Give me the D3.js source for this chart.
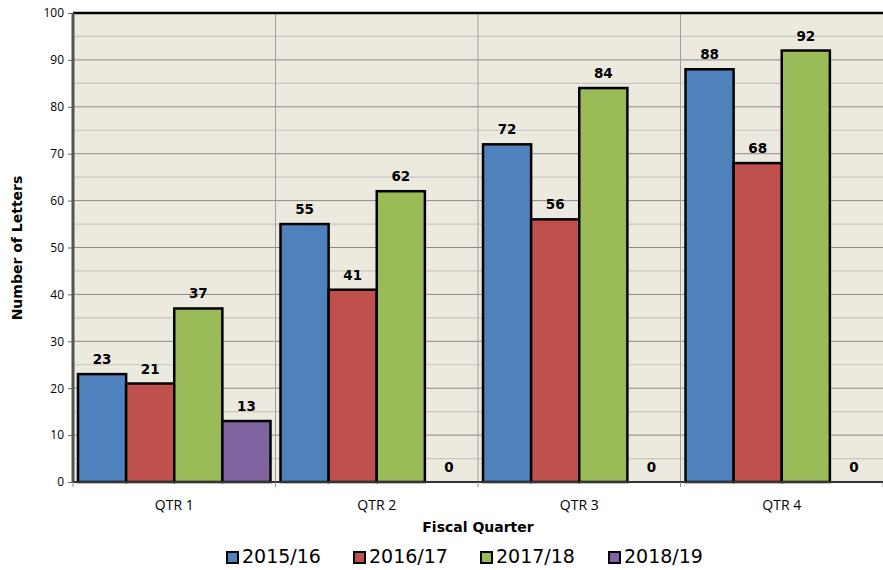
<!DOCTYPE html>
<html>
<head>
<meta charset="utf-8">
<script src="https://cdn.jsdelivr.net/npm/d3@7"></script>
<style>
body { margin: 0; background: #fff; }
</style>
</head>
<body>
<svg id="drawing_region"></svg>
<script>
const quarters = ['QTR 1', 'QTR 2', 'QTR 3', 'QTR 4'];
const seriesNames = ['2015/16', '2016/17', '2017/18', '2018/19'];
const values2015 = [23, 55, 72, 88];
const values2016 = [21, 41, 56, 68];
const values2017 = [37, 62, 84, 92];
const values2018 = [13, 0, 0, 0];
const colors = ['#4F81BD', '#C0504D', '#9BBB59', '#8064A2'];
const yTicks = [0, 10, 20, 30, 40, 50, 60, 70, 80, 90, 100];

const seriesValues = [values2015, values2016, values2017, values2018];

const width = 883, height = 570;
const margin = { top: 13, right: 0, bottom: 88, left: 73 };
const innerW = width - margin.left - margin.right;
const innerH = height - margin.top - margin.bottom;

const svg = d3.select('#drawing_region').attr('width', width).attr('height', height);
const chart = svg.append('g').attr('transform', `translate(${margin.left},${margin.top})`);

const xscale = d3.scaleBand().domain(quarters).range([0, innerW]).padding(0);
const inner = d3.scaleBand().domain(seriesNames).range([5, xscale.bandwidth() - 5]).padding(0);
const yscale = d3.scaleLinear().domain([0, 100]).range([innerH, 0]);

chart.append('rect')
    .attr('width', innerW).attr('height', innerH)
    .attr('fill', '#ECE9DF');

// minor gridlines
chart.selectAll('.minor').data(d3.range(5, 100, 10)).enter().append('line')
    .attr('x1', 0).attr('x2', innerW)
    .attr('y1', d => yscale(d)).attr('y2', d => yscale(d))
    .attr('stroke', '#C8C6C0').attr('stroke-width', 1.2);

// major gridlines
chart.selectAll('.major').data(yTicks.slice(1)).enter().append('line')
    .attr('x1', 0).attr('x2', innerW)
    .attr('y1', d => yscale(d)).attr('y2', d => yscale(d))
    .attr('stroke', '#8A8A8A').attr('stroke-width', 1);

// vertical gridlines
chart.selectAll('.vgrid').data(quarters.slice(1)).enter().append('line')
    .attr('x1', d => xscale(d)).attr('x2', d => xscale(d))
    .attr('y1', 0).attr('y2', innerH)
    .attr('stroke', '#A0A0A0').attr('stroke-width', 1);

// bars
seriesNames.forEach((s, i) => {
    const g = chart.append('g');
    g.selectAll('rect').data(quarters).enter().append('rect')
        .attr('x', (q) => xscale(q) + inner(s))
        .attr('y', (q, j) => yscale(seriesValues[i][j]))
        .attr('width', inner.bandwidth())
        .attr('height', (q, j) => innerH - yscale(seriesValues[i][j]))
        .attr('fill', colors[i])
        .attr('stroke', d => seriesValues[i][quarters.indexOf(d)] > 0 ? '#000' : 'none')
        .attr('stroke-width', 2.5);

    g.selectAll('text').data(quarters).enter().append('text')
        .attr('x', q => xscale(q) + inner(s) + inner.bandwidth() / 2)
        .attr('y', (q, j) => seriesValues[i][j] > 0 ? yscale(seriesValues[i][j]) - 10 : innerH - 10)
        .attr('text-anchor', 'middle')
        .attr('font-family', 'DejaVu Sans, Verdana, sans-serif')
        .attr('font-weight', 'bold')
        .attr('font-size', 13.5)
        .text((q, j) => seriesValues[i][j]);
});

// top border
chart.append('line').attr('x1', 0).attr('x2', innerW).attr('y1', 0).attr('y2', 0)
    .attr('stroke', '#000').attr('stroke-width', 2.5);

// y axis
const yaxis = d3.axisLeft(yscale).tickValues(yTicks).tickSize(5).tickPadding(4);
const yg = chart.append('g').call(yaxis);
yg.select('.domain').remove();
yg.selectAll('line').attr('stroke', '#666');
yg.selectAll('text').attr('font-family', 'Open Sans, sans-serif').attr('font-size', 12).attr('fill', '#000');
chart.append('line').attr('x1', 0).attr('x2', 0).attr('y1', 0).attr('y2', innerH)
    .attr('stroke', '#555').attr('stroke-width', 3);

// x axis
const xg = chart.append('g').attr('transform', `translate(0,${innerH})`);
xg.append('line').attr('x1', 0).attr('x2', innerW).attr('stroke', '#333').attr('stroke-width', 2);
xg.selectAll('.tk').data(quarters.concat(['end'])).enter().append('line')
    .attr('x1', (d, i) => i * xscale.bandwidth()).attr('x2', (d, i) => i * xscale.bandwidth())
    .attr('y1', 0).attr('y2', 5).attr('stroke', '#888');
xg.selectAll('text').data(quarters).enter().append('text')
    .attr('x', d => xscale(d) + xscale.bandwidth() / 2)
    .attr('y', 28)
    .attr('text-anchor', 'middle')
    .attr('font-family', 'Open Sans, Lato, sans-serif')
    .attr('font-size', 14)
    .text(d => d);

// axis titles
svg.append('text')
    .attr('x', 478).attr('y', 532)
    .attr('text-anchor', 'middle')
    .attr('font-family', 'DejaVu Sans, Verdana, sans-serif')
    .attr('font-weight', 'bold').attr('font-size', 14)
    .text('Fiscal Quarter');
svg.append('text')
    .attr('transform', 'translate(22,248) rotate(-90)')
    .attr('text-anchor', 'middle')
    .attr('font-family', 'DejaVu Sans, Verdana, sans-serif')
    .attr('font-weight', 'bold').attr('font-size', 14)
    .text('Number of Letters');

// legend
const legendX = [226, 353, 480, 608];
const legend = svg.selectAll('.legend').data(seriesNames).enter().append('g')
    .attr('transform', (d, i) => `translate(${legendX[i]},557)`);
legend.append('rect')
    .attr('x', 1).attr('y', -5).attr('width', 11).attr('height', 11)
    .attr('fill', (d, i) => colors[i]).attr('stroke', '#000').attr('stroke-width', 2);
legend.append('text')
    .attr('x', 16).attr('y', 6)
    .attr('font-family', 'DejaVu Sans, Verdana, sans-serif')
    .attr('font-size', 19)
    .text(d => d);
</script>
</body>
</html>
